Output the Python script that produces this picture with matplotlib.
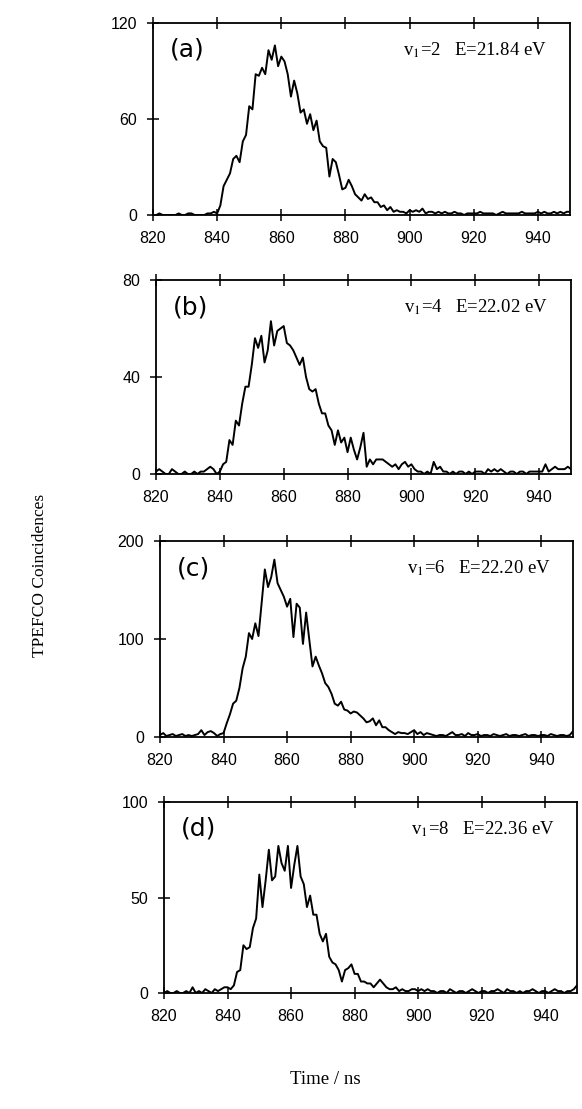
import numpy as np
import matplotlib
matplotlib.use("Agg")
import matplotlib.pyplot as plt

plt.rcParams['mathtext.fontset'] = 'stix'

# time axis, 1 ns bins
time_ns = np.arange(820, 951)

counts_a = [
    0, 0, 1, 0, 0, 0, 0, 0, 1, 0, 0, 1, 1, 0, 0, 0, 0, 1, 1, 2,   # 820-839
    1, 6, 18, 22, 26, 35, 37, 33, 46, 50, 68, 66, 88, 87, 92, 88, 103, 97, 106, 93,  # 840-859
    99, 96, 88, 74, 84, 76, 64, 66, 57, 63, 53, 59, 46, 43, 42, 24, 35, 33, 25, 16,  # 860-879
    17, 22, 18, 13, 11, 9, 13, 10, 11, 8, 8, 5, 6, 3, 5, 2, 3, 2, 2, 1,  # 880-899
    3, 2, 3, 2, 4, 1, 2, 2, 1, 2, 1, 2, 1, 1, 2, 1, 1, 0, 1, 1,  # 900-919
    1, 1, 2, 1, 1, 1, 1, 0, 1, 2, 1, 1, 1, 1, 1, 2, 1, 1, 1, 1,  # 920-939
    2, 1, 2, 1, 1, 2, 1, 2, 1, 2, 2,  # 940-950
]

counts_b = [
    1, 2, 1, 0, 0, 2, 1, 0, 0, 1, 0, 0, 1, 0, 1, 1, 2, 3, 2, 0,
    1, 4, 5, 14, 12, 22, 20, 29, 36, 36, 45, 56, 52, 57, 46, 51, 63, 53, 59, 60,
    61, 54, 53, 51, 48, 45, 48, 40, 35, 34, 35, 29, 25, 25, 20, 18, 12, 18, 13, 15,
    9, 15, 10, 6, 11, 17, 3, 6, 4, 6, 6, 6, 5, 4, 3, 4, 2, 4, 5, 3,
    4, 2, 1, 1, 0, 1, 0, 5, 2, 3, 1, 1, 0, 1, 0, 1, 1, 0, 1, 0,
    1, 1, 1, 0, 2, 1, 2, 1, 2, 1, 0, 1, 1, 0, 1, 1, 0, 1, 1, 1,
    1, 1, 4, 1, 2, 3, 2, 2, 2, 3, 2,
]

counts_c = [
    2, 4, 1, 2, 3, 1, 2, 3, 1, 2, 1, 2, 3, 7, 2, 5, 6, 4, 1, 3,
    4, 14, 23, 34, 37, 50, 70, 82, 106, 100, 116, 103, 137, 171, 153, 163, 181, 157, 150, 143,
    133, 141, 102, 136, 132, 95, 127, 99, 72, 82, 73, 65, 55, 51, 44, 34, 32, 36, 28, 27,
    24, 26, 25, 22, 19, 15, 16, 19, 12, 17, 10, 10, 7, 5, 3, 5, 4, 4, 3, 5,
    7, 3, 5, 2, 4, 3, 2, 1, 2, 2, 1, 3, 5, 2, 2, 3, 1, 4, 2, 2,
    3, 1, 2, 2, 1, 3, 2, 1, 2, 3, 1, 2, 2, 1, 2, 3, 1, 2, 2, 1,
    2, 2, 1, 3, 2, 1, 2, 2, 1, 2, 6,
]

counts_d = [
    0, 1, 0, 0, 1, 0, 0, 1, 0, 3, 0, 1, 0, 2, 1, 0, 2, 1, 2, 3,
    3, 2, 4, 11, 12, 25, 23, 24, 34, 39, 62, 45, 59, 75, 59, 61, 77, 68, 64, 77,
    55, 67, 77, 61, 57, 45, 51, 41, 41, 31, 27, 31, 19, 16, 15, 12, 6, 12, 13, 15,
    10, 10, 6, 6, 5, 5, 3, 5, 7, 5, 3, 2, 2, 3, 1, 2, 1, 1, 2, 2,
    1, 2, 1, 2, 1, 1, 0, 1, 1, 0, 2, 1, 0, 1, 1, 0, 1, 2, 1, 0,
    1, 1, 0, 1, 1, 2, 1, 0, 2, 1, 1, 0, 1, 0, 1, 1, 2, 1, 0, 1,
    1, 0, 1, 2, 1, 1, 0, 1, 1, 2, 4,
]

panel_labels = ["(a)", "(b)", "(c)", "(d)"]
v_levels = [2, 4, 6, 8]
energies = ["21.84", "22.02", "22.20", "22.36"]
y_ticks = [[0, 60, 120], [0, 40, 80], [0, 100, 200], [0, 50, 100]]
x_ticks = [820, 840, 860, 880, 900, 920, 940]

W, H = 582, 1109
# axes boxes in pixels: left, top, right, bottom
boxes = [(153, 23, 570, 215), (156, 280, 571, 474), (160, 541, 573, 737), (164, 802, 577, 993)]

fig = plt.figure(figsize=(W / 100, H / 100), dpi=100)

series = [counts_a, counts_b, counts_c, counts_d]
for i, counts in enumerate(series):
    l, t, r, b = boxes[i]
    ax = fig.add_axes([l / W, 1 - b / H, (r - l) / W, (b - t) / H])
    ax.plot(time_ns, counts, color="black", lw=1.4)
    ax.set_xlim(820, 950)
    ax.set_ylim(y_ticks[i][0], y_ticks[i][-1])
    ax.set_xticks(x_ticks)
    ax.set_yticks(y_ticks[i])
    ax.tick_params(direction="inout", length=9, width=1.1, top=True,
                   labelsize=11.5, pad=7)
    for lab in ax.get_xticklabels() + ax.get_yticklabels():
        lab.set_family("Liberation Sans")
    for sp in ax.spines.values():
        sp.set_linewidth(1.3)
    ax.text(0.04, 0.86, panel_labels[i], transform=ax.transAxes,
            fontsize=18, family="DejaVu Sans",
            ha="left", va="center")
    ax.text(0.945, 0.86, r"v$_1$=%d   E=%s eV" % (v_levels[i], energies[i]),
            transform=ax.transAxes, fontsize=13.5, family="Liberation Serif",
            ha="right", va="center")

fig.text(40 / W, 1 - 575 / H, "TPEFCO Coincidences", rotation=90,
         fontsize=12.5, family="Liberation Serif", ha="center", va="center")
fig.text(325 / W, 1 - 1080 / H, "Time / ns", fontsize=13.5,
         family="Liberation Serif", ha="center", va="center")

fig.savefig("out.png", dpi=100)
plt.close(fig)
